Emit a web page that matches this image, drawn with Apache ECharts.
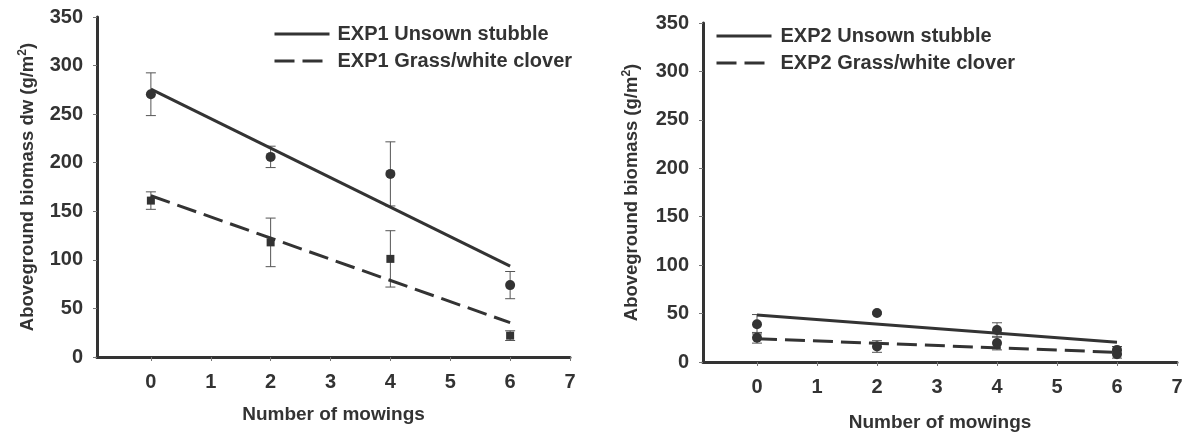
<!DOCTYPE html>
<html>
<head>
<meta charset="utf-8">
<script src="https://cdn.jsdelivr.net/npm/echarts@6/dist/echarts.min.js"></script>
<style>
html,body{margin:0;padding:0;background:#fff;}
#chart{width:1184px;height:433px;}
</style>
</head>
<body>
<div id="chart"></div>
<script>
// ---- data ----
const mowings = [0, 2, 4, 6];
const xTickLabels = [0, 1, 2, 3, 4, 5, 6, 7];
const yTicks = [0, 50, 100, 150, 200, 250, 300, 350];

const exp1UnsownMean = [270.5, 206, 188.5, 74];
const exp1UnsownErr  = [22, 11, 33, 14];
const exp1GrassMean  = [161, 118, 101, 22];
const exp1GrassErr   = [9, 25, 29, 5];
const exp1UnsownTrend = [[0, 275.7], [6, 93.5]];
const exp1GrassTrend  = [[0, 166], [6, 35.3]];

const exp2UnsownMean = [39, 50.5, 33, 12.5];
const exp2UnsownErr  = [10, 1, 7.5, 3.5];
const exp2GrassMean  = [25, 16, 19.5, 8];
const exp2GrassErr   = [5.5, 6, 7, 4];
const exp2UnsownTrend = [[0, 48.5], [6, 20.5]];
const exp2GrassTrend  = [[0, 24], [6, 10]];

const names = {
  e1u: 'EXP1 Unsown stubble',
  e1g: 'EXP1 Grass/white clover',
  e2u: 'EXP2 Unsown stubble',
  e2g: 'EXP2 Grass/white clover'
};
const yTitle1 = 'Aboveground biomass dw (g/m{sup|2})';
const yTitle2 = 'Aboveground biomass (g/m{sup|2})';
const xTitle = 'Number of mowings';

// ---- helpers ----
const FONT = '"Liberation Sans", Arial, Helvetica, sans-serif';
const DARK = '#333333';
const pts = (xs, ys) => xs.map((x, i) => [x, ys[i]]);
const errs = (xs, ys, es) => xs.map((x, i) => [x, ys[i] - es[i], ys[i] + es[i]]);

function errRender(params, api) {
  const x = api.value(0), lo = api.value(1), hi = api.value(2);
  const a = api.coord([x, hi]), b = api.coord([x, lo]);
  const w = 5;
  const st = {stroke: '#555', lineWidth: 1};
  return {type: 'group', children: [
    {type: 'line', shape: {x1: a[0], y1: a[1], x2: b[0], y2: b[1]}, style: st},
    {type: 'line', shape: {x1: a[0] - w, y1: a[1], x2: a[0] + w, y2: a[1]}, style: st},
    {type: 'line', shape: {x1: b[0] - w, y1: b[1], x2: b[0] + w, y2: b[1]}, style: st}
  ]};
}

function xAxisCfg(idx, gap) {
  return {
    type: 'value', gridIndex: idx, min: -0.9, max: 7,
    name: xTitle, nameLocation: 'middle', nameGap: gap,
    nameTextStyle: {fontSize: 19, fontWeight: 'bold', color: DARK, fontFamily: FONT},
    axisLine: {show: true, onZero: false, lineStyle: {color: DARK, width: 3}},
    axisTick: {show: true, length: 4, customValues: xTickLabels, lineStyle: {color: '#777', width: 1}},
    axisLabel: {show: true, customValues: xTickLabels, margin: 15, fontSize: 20, fontWeight: 'bold', color: DARK, fontFamily: FONT},
    splitLine: {show: false}
  };
}
function yAxisCfg(idx, title, gap) {
  return {
    type: 'value', gridIndex: idx, min: 0, max: 350, interval: 50,
    name: title, nameLocation: 'middle', nameRotate: 90, nameGap: gap,
    nameTextStyle: {fontSize: 18.5, fontWeight: 'bold', color: DARK, fontFamily: FONT, lineHeight: 22,
      rich: {sup: {fontSize: 12, fontWeight: 'bold', color: DARK, fontFamily: FONT, verticalAlign: 'top', lineHeight: 22}}},
    axisLine: {show: true, onZero: false, lineStyle: {color: DARK, width: 3}},
    axisTick: {show: true, length: 4, lineStyle: {color: '#777', width: 1}},
    axisLabel: {margin: 14, fontSize: 20, fontWeight: 'bold', color: DARK, fontFamily: FONT},
    splitLine: {show: false}
  };
}
function trend(name, data, idx, dashed) {
  return {
    name: name, type: 'line', xAxisIndex: idx, yAxisIndex: idx, data: data,
    symbol: 'none', z: 3, silent: true, animation: false,
    lineStyle: {color: DARK, width: 3, type: dashed ? [20, 8] : 'solid'},
    itemStyle: {color: DARK}
  };
}
function scatter(name, data, idx, sym, size) {
  return {
    name: name, type: 'scatter', xAxisIndex: idx, yAxisIndex: idx, data: data,
    symbol: sym, symbolSize: size, z: 4, silent: true, animation: false,
    itemStyle: {color: DARK, opacity: 1}
  };
}
function errBars(name, data, idx) {
  return {
    name: name, type: 'custom', xAxisIndex: idx, yAxisIndex: idx, data: data,
    renderItem: errRender, z: 2, silent: true, animation: false
  };
}
function legendCfg(left, top, data, pad) {
  return {
    left: left, top: top, orient: 'vertical', data: data, selectedMode: false,
    itemWidth: 55, itemHeight: 14, itemGap: 7,
    itemStyle: {opacity: 0},
    lineStyle: {width: 3, color: DARK, opacity: 1},
    textStyle: {fontSize: 20, fontWeight: 'bold', color: DARK, fontFamily: FONT, lineHeight: 20, padding: [0, 0, 0, pad]}
  };
}

const option = {
  backgroundColor: '#ffffff',
  animation: false,
  grid: [
    {left: 97, top: 17, width: 473, height: 340, outerBoundsMode: 'none', containLabel: false},
    {left: 703, top: 23, width: 474, height: 339, outerBoundsMode: 'none', containLabel: false}
  ],
  legend: [
    legendCfg(268, 19, [names.e1u, names.e1g], 3),
    legendCfg(710, 21, [names.e2u, names.e2g], 4)
  ],
  xAxis: [xAxisCfg(0, 48), xAxisCfg(1, 51)],
  yAxis: [yAxisCfg(0, yTitle1, 58), yAxisCfg(1, yTitle2, 60)],
  series: [
    errBars('e1u-err', errs(mowings, exp1UnsownMean, exp1UnsownErr), 0),
    errBars('e1g-err', errs(mowings, exp1GrassMean, exp1GrassErr), 0),
    trend(names.e1u, exp1UnsownTrend, 0, false),
    trend(names.e1g, exp1GrassTrend, 0, true),
    scatter('e1u-pts', pts(mowings, exp1UnsownMean), 0, 'circle', 10),
    scatter('e1g-pts', pts(mowings, exp1GrassMean), 0, 'rect', 8),

    errBars('e2u-err', errs(mowings, exp2UnsownMean, exp2UnsownErr), 1),
    errBars('e2g-err', errs(mowings, exp2GrassMean, exp2GrassErr), 1),
    trend(names.e2u, exp2UnsownTrend, 1, false),
    trend(names.e2g, exp2GrassTrend, 1, true),
    scatter('e2u-pts', pts(mowings, exp2UnsownMean), 1, 'circle', 10),
    scatter('e2g-pts', pts(mowings, exp2GrassMean), 1, 'circle', 10)
  ]
};

const chart = echarts.init(document.getElementById('chart'), null, {renderer: 'canvas'});
chart.setOption(option);
</script>
</body>
</html>
